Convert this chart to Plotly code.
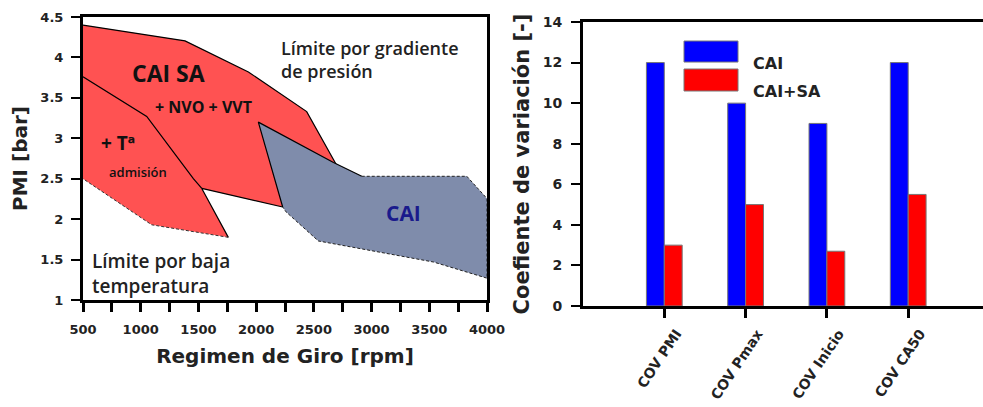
import plotly.graph_objects as go

# ---------------- data: left panel (operating regions) ----------------
red_x = [500, 1384, 1933, 2438, 2700, 2230, 1529, 1759, 1095, 500]
red_y = [4.40, 4.205, 3.82, 3.33, 2.66, 2.15, 2.38, 1.775, 1.93, 2.50]
red_inner_x = [500, 1052, 1456, 1529]
red_inner_y = [3.76, 3.27, 2.50, 2.38]
blue_x = [2019, 2670, 2915, 3825, 3984, 4000, 4000, 3536, 2539, 2259, 2230]
blue_y = [3.20, 2.70, 2.53, 2.53, 2.28, 2.25, 1.27, 1.47, 1.73, 2.09, 2.15]

x1_ticks = list(range(500, 4001, 250))
x1_labels = [str(v) if v % 500 == 0 else "" for v in x1_ticks]
y1_ticks = [1, 1.5, 2, 2.5, 3, 3.5, 4, 4.5]
y1_labels = ["1", "1.5", "2", "2.5", "3", "3.5", "4", "4.5"]

# ---------------- data: right panel (bars) ----------------
categories = ["COV PMI", "COV Pmax", "COV Inicio", "COV CA50"]
cai_values = [12, 10, 9, 12]
caisa_values = [3, 5, 2.7, 5.5]
series_names = ["CAI", "CAI+SA"]

RED_FILL = "#ff5252"
BLUE_FILL = "#7f8cab"
AX = "DejaVu Sans, Liberation Sans, Arial"
ANNFONT = "Open Sans, Lato, sans-serif"
TXT = "#222222"

fig = go.Figure()

fig.add_trace(go.Scatter(x=red_x, y=red_y, fill="toself", fillcolor=RED_FILL,
                         mode="lines", line=dict(width=0), hoverinfo="skip",
                         showlegend=False, xaxis="x", yaxis="y"))
fig.add_trace(go.Scatter(x=red_x[0:5], y=red_y[0:5], mode="lines",
                         line=dict(color="black", width=1.2), showlegend=False,
                         xaxis="x", yaxis="y"))
fig.add_trace(go.Scatter(x=red_x[5:8], y=red_y[5:8], mode="lines",
                         line=dict(color="black", width=1.2), showlegend=False,
                         xaxis="x", yaxis="y"))
fig.add_trace(go.Scatter(x=red_x[7:10], y=red_y[7:10], mode="lines",
                         line=dict(color="#333333", width=1, dash="3px,2px"), showlegend=False,
                         xaxis="x", yaxis="y"))
fig.add_trace(go.Scatter(x=red_inner_x, y=red_inner_y, mode="lines",
                         line=dict(color="black", width=1.2), showlegend=False,
                         xaxis="x", yaxis="y"))

fig.add_trace(go.Scatter(x=blue_x, y=blue_y, fill="toself", fillcolor=BLUE_FILL,
                         mode="lines", line=dict(width=0), hoverinfo="skip",
                         showlegend=False, xaxis="x", yaxis="y"))
fig.add_trace(go.Scatter(x=[blue_x[-1], blue_x[0], blue_x[1], blue_x[2]],
                         y=[blue_y[-1], blue_y[0], blue_y[1], blue_y[2]], mode="lines",
                         line=dict(color="black", width=1.2), showlegend=False,
                         xaxis="x", yaxis="y"))
fig.add_trace(go.Scatter(x=blue_x[2:], y=blue_y[2:], mode="lines",
                         line=dict(color="#222222", width=1, dash="3px,2px"), showlegend=False,
                         xaxis="x", yaxis="y"))

xs = list(range(len(categories)))
fig.add_trace(go.Bar(x=xs, y=cai_values, name=series_names[0], marker=dict(color="#0000ff",
                     line=dict(color="#777777", width=1)), showlegend=False,
                     xaxis="x2", yaxis="y2"))
fig.add_trace(go.Bar(x=xs, y=caisa_values, name=series_names[1], marker=dict(color="#ff0000",
                     line=dict(color="#777777", width=1)), showlegend=False,
                     xaxis="x2", yaxis="y2"))

TICKFONT = dict(family=AX, size=13, color=TXT, weight="bold")

fig.update_layout(
    width=983, height=407,
    margin=dict(l=0, r=0, t=0, b=0),
    paper_bgcolor="white", plot_bgcolor="white",
    barmode="group", bargap=0.56, bargroupgap=0,
    xaxis=dict(domain=[83/983, 487/983], anchor="y", range=[500, 4000], tickvals=x1_ticks,
               ticktext=x1_labels, ticks="outside", ticklen=9, tickwidth=2.5,
               tickcolor="black", showline=True, linewidth=3, linecolor="black",
               mirror=True, showgrid=False, zeroline=False, tickfont=TICKFONT,
               automargin=False, ticklabelstandoff=6,
               title=dict(text="Regimen de Giro [rpm]", standoff=14,
                          font=dict(family=AX, size=20, color=TXT, weight="bold"))),
    yaxis=dict(domain=[1-300/407, 1-17/407], anchor="x", range=[1, 4.5], tickvals=y1_ticks,
               ticktext=y1_labels, ticks="outside", ticklen=9, tickwidth=2,
               tickcolor="black", showline=True, linewidth=3, linecolor="black",
               mirror=True, showgrid=False, zeroline=False, tickfont=TICKFONT,
               automargin=False, ticklabelstandoff=5,
               title=dict(text="PMI [bar]", standoff=8,
                          font=dict(family=AX, size=20, color=TXT, weight="bold"))),
    xaxis2=dict(domain=[583/983, 1.0], anchor="y2", range=[-1, 3.92], tickvals=xs,
                ticktext=categories, automargin=False,
                tickangle=-56, ticks="outside", ticklen=9, tickwidth=3, tickcolor="black",
                ticklabelshift=12, ticklabelstandoff=2,
                showline=True, linewidth=3, linecolor="black", mirror=True,
                showgrid=False, zeroline=False,
                tickfont=dict(family=AX, size=14, color=TXT, weight="bold")),
    yaxis2=dict(domain=[1-306/407, 1-22/407], anchor="x2", range=[0, 14], dtick=2,
                ticks="outside", automargin=False, ticklabelstandoff=6,
                ticklen=9, tickwidth=2, tickcolor="black", showline=True, linewidth=3,
                linecolor="black", mirror=False, showgrid=False, zeroline=False,
                tickfont=dict(family=AX, size=14, color=TXT, weight="bold"),
                title=dict(text="Coefiente de variación [-]", standoff=8,
                           font=dict(family=AX, size=21, color=TXT, weight="bold"))),
)

anns = [
    dict(x=2200, y=3.97, text="Límite por gradiente<br>de presión", xanchor="left",
         align="left", font=dict(family=ANNFONT, size=18, color=TXT, weight=600)),
    dict(x=1237, y=3.81, text="CAI SA", font=dict(family=ANNFONT, size=23, color="#111111",
                                                  weight="bold")),
    dict(x=1540, y=3.39, text="+ NVO + VVT", font=dict(family=ANNFONT, size=16,
                                                       color="#111111", weight="bold")),
    dict(x=803, y=2.94, text="+ Tª", font=dict(family=ANNFONT, size=19, color="#111111",
                                               weight="bold")),
    dict(x=977, y=2.58, text="admisión", font=dict(family=ANNFONT, size=13,
                                                   color="#111111", weight=600)),
    dict(x=560, y=1.33, text="Límite por baja<br>temperatura", xanchor="left",
         align="left", font=dict(family=ANNFONT, size=19, color=TXT, weight=600)),
    dict(x=3273, y=2.08, text="CAI", font=dict(family=ANNFONT, size=21, color="#1a1a8c",
                                               weight="bold")),
]
for a in anns:
    a.update(xref="x", yref="y", showarrow=False)
    fig.add_annotation(**a)

leg_colors = ["#0000ff", "#ff0000"]
leg_y = [(0.859, 0.933), (0.757, 0.8345)]
for name, col, (y0, y1) in zip(series_names, leg_colors, leg_y):
    fig.add_shape(type="rect", xref="x2 domain", yref="y2 domain", x0=0.2525, x1=0.3875,
                  y0=y0, y1=y1, fillcolor=col, line=dict(color="#777777", width=1))
    fig.add_annotation(xref="x2 domain", yref="y2 domain", x=0.42, y=(y0 + y1) / 2,
                       text=name, showarrow=False, xanchor="left",
                       font=dict(family=AX, size=16, color=TXT, weight="bold"))

fig.write_html("out.html")
